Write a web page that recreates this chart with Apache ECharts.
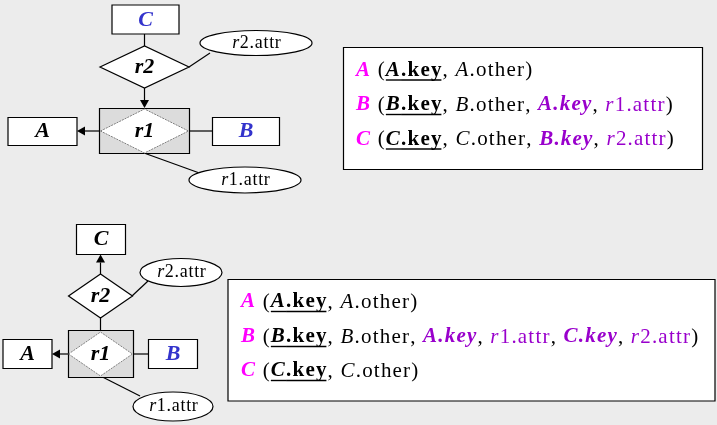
<!DOCTYPE html>
<html>
<head>
<meta charset="utf-8">
<script src="https://cdn.jsdelivr.net/npm/echarts@6/dist/echarts.min.js"></script>
<style>
html, body {margin: 0; padding: 0; background: #ececec;}
#chart {width: 717px; height: 425px;}
</style>
</head>
<body>
<div id="chart"></div>
<script>
// labels of the ER diagrams
var entityNames = ['A', 'B', 'C'];
var relNames = ['r1', 'r2'];
var attrNames = ['r1.attr', 'r2.attr'];

// relational schemas: [text, kind]
var schemaTop = [
    [['A', 'E'], [' (', 'N'], ['A', 'KI'], ['.key', 'K'], [', ', 'N'], ['A', 'I'], ['.other)', 'N']],
    [['B', 'E'], [' (', 'N'], ['B', 'KI'], ['.key', 'K'], [', ', 'N'], ['B', 'I'], ['.other, ', 'N'],
        ['A.key', 'FI'], [', ', 'N'], ['r', 'PI'], ['1.attr', 'P'], [')', 'N']],
    [['C', 'E'], [' (', 'N'], ['C', 'KI'], ['.key', 'K'], [', ', 'N'], ['C', 'I'], ['.other, ', 'N'],
        ['B.key', 'FI'], [', ', 'N'], ['r', 'PI'], ['2.attr', 'P'], [')', 'N']]
];
var schemaBottom = [
    [['A', 'E'], [' (', 'N'], ['A', 'KI'], ['.key', 'K'], [', ', 'N'], ['A', 'I'], ['.other)', 'N']],
    [['B', 'E'], [' (', 'N'], ['B', 'KI'], ['.key', 'K'], [', ', 'N'], ['B', 'I'], ['.other, ', 'N'],
        ['A.key', 'FI'], [', ', 'N'], ['r', 'PI'], ['1.attr', 'P'], [', ', 'N'],
        ['C.key', 'FI'], [', ', 'N'], ['r', 'PI'], ['2.attr', 'P'], [')', 'N']],
    [['C', 'E'], [' (', 'N'], ['C', 'KI'], ['.key', 'K'], [', ', 'N'], ['C', 'I'], ['.other)', 'N']]
];

var SERIF = 'Liberation Serif';
var FS = 21;
var TRACK = 1.2;
var kinds = {
    E: {fs: 'italic', fw: 'bold', color: '#ff00ff'},
    KI: {fs: 'italic', fw: 'bold', color: '#000', underline: true},
    K: {fs: 'normal', fw: 'bold', color: '#000', underline: true},
    N: {fs: 'normal', fw: 'normal', color: '#000'},
    I: {fs: 'italic', fw: 'normal', color: '#000'},
    FI: {fs: 'italic', fw: 'bold', color: '#9900cc'},
    PI: {fs: 'italic', fw: 'normal', color: '#9900cc'},
    P: {fs: 'normal', fw: 'normal', color: '#9900cc'}
};

var measureCtx = document.createElement('canvas').getContext('2d');

// draws text char by char with a little extra spacing, returns the advance
function run(els, x, y, text, fs, fw, size, color, track) {
    measureCtx.font = fs + ' ' + fw + ' ' + size + 'px ' + SERIF;
    text.split('').forEach(function (ch) {
        if (ch !== ' ') {
            els.push({type: 'text', silent: true,
                style: {x: x, y: y, text: ch, fontStyle: fs, fontWeight: fw, fontSize: size,
                    fontFamily: SERIF, fill: color, align: 'left', verticalAlign: 'middle'}});
        }
        x += measureCtx.measureText(ch).width + track;
    });
    return x;
}

function schemaRows(rows, x0, ys) {
    var els = [];
    rows.forEach(function (row, i) {
        var x = x0;
        var y = ys[i];
        row.forEach(function (seg) {
            var k = kinds[seg[1]];
            var nx = run(els, x, y, seg[0], k.fs, k.fw, FS, k.color, TRACK);
            if (k.underline) {
                els.push(line(x, y + 9.5, nx - (seg[1] === 'K' ? TRACK : 0), y + 9.5, 1.4));
            }
            x = nx;
        });
    });
    return els;
}

function rect(x, y, w, h, fill) {
    return {type: 'rect', shape: {x: x, y: y, width: w, height: h},
        style: {fill: fill || '#fff', stroke: '#000', lineWidth: 1.2}};
}

function diamond(cx, cy, w, h, dotted) {
    return {type: 'polygon',
        shape: {points: [[cx - w / 2, cy], [cx, cy - h / 2], [cx + w / 2, cy], [cx, cy + h / 2]]},
        style: dotted ? {fill: '#fff', stroke: '#808080', lineWidth: 1, lineDash: [2, 1]}
            : {fill: '#fff', stroke: '#000', lineWidth: 1.2}};
}

function ellipse(cx, cy, rx, ry) {
    return {type: 'ellipse', shape: {cx: cx, cy: cy, rx: rx, ry: ry},
        style: {fill: '#fff', stroke: '#000', lineWidth: 1.2}};
}

function line(x1, y1, x2, y2, lw) {
    return {type: 'line', shape: {x1: x1, y1: y1, x2: x2, y2: y2},
        style: {stroke: '#000', lineWidth: lw || 1.2}};
}

function arrow(x1, y1, x2, y2) {
    var dx = x2 - x1, dy = y2 - y1;
    var len = Math.sqrt(dx * dx + dy * dy);
    var ux = dx / len, uy = dy / len;
    var bx = x2 - ux * 8, by = y2 - uy * 8;
    return [
        line(x1, y1, bx, by),
        {type: 'polygon',
            shape: {points: [[x2, y2], [bx - uy * 4.5, by + ux * 4.5], [bx + uy * 4.5, by - ux * 4.5]]},
            style: {fill: '#000'}}
    ];
}

function label(cx, cy, text, color) {
    return {type: 'text', silent: true,
        style: {x: cx, y: cy, text: text, fontStyle: 'italic', fontWeight: 'bold', fontSize: 22,
            fontFamily: SERIF, fill: color || '#000', align: 'center', verticalAlign: 'middle'}};
}

function attrLabel(cx, cy, text) {
    var els = [];
    var size = 18, track = 0.7;
    measureCtx.font = 'normal normal ' + size + 'px ' + SERIF;
    var w = measureCtx.measureText(text).width + track * (text.length - 1);
    var x = cx - w / 2;
    x = run(els, x, cy, text.charAt(0), 'italic', 'normal', size, '#000', track);
    run(els, x, cy, text.slice(1), 'normal', 'normal', size, '#000', track);
    return els;
}

var BLUE = '#3333cc';

function topDiagram() {
    return [].concat(
        line(144.5, 34, 144.5, 46),
        line(189, 67, 210, 53),
        arrow(144.5, 88, 144.5, 108),
        line(189, 131, 212, 131),
        line(144, 153, 198, 172.5),
        rect(112, 5, 67, 29), label(145.5, 20, entityNames[2], BLUE),
        diamond(144.5, 67, 89, 42), label(144.5, 67, relNames[1]),
        ellipse(256, 43, 56, 12.5), attrLabel(256, 43, attrNames[1]),
        rect(99.5, 108.5, 90, 45, '#dcdcdc'),
        diamond(144.5, 131, 88, 44, true), label(144.5, 131, relNames[0]),
        arrow(99.5, 131, 77, 131),
        rect(8, 117.5, 69, 28), label(42.5, 131.5, entityNames[0]),
        rect(212.5, 117.5, 67, 28), label(246, 131.5, entityNames[1], BLUE),
        ellipse(245, 180, 56, 13), attrLabel(245, 180, attrNames[0])
    );
}

function bottomDiagram() {
    return [].concat(
        arrow(100.5, 274, 100.5, 254.5),
        line(132, 296, 148, 281),
        line(100.5, 318, 100.5, 330),
        line(133, 354, 148, 354),
        line(100.5, 376, 140, 396),
        rect(76.5, 224.5, 49, 30), label(101, 239.5, entityNames[2]),
        diamond(100.5, 296, 64, 44), label(100.5, 296, relNames[1]),
        ellipse(181, 272.5, 41, 14), attrLabel(181, 272.5, attrNames[1]),
        rect(68.5, 330.5, 65, 47, '#dcdcdc'),
        diamond(100.5, 354, 64, 44, true), label(100.5, 354, relNames[0]),
        arrow(68.5, 354, 52, 354),
        rect(3, 339.5, 49, 29), label(27.5, 354, entityNames[0]),
        rect(148.5, 339.5, 49, 29), label(173, 354, entityNames[1], BLUE),
        ellipse(173, 406.5, 40, 14.5), attrLabel(173, 406.5, attrNames[0])
    );
}

var elements = [].concat(
    topDiagram(),
    bottomDiagram(),
    rect(343.5, 47.5, 359, 122),
    schemaRows(schemaTop, 356, [70.5, 105, 139.5]),
    rect(228, 279.5, 487, 121.5),
    schemaRows(schemaBottom, 241, [302, 337, 371])
);

var myChart = echarts.init(document.getElementById('chart'));
myChart.setOption({
    backgroundColor: '#ececec',
    animation: false,
    graphic: {elements: elements}
});
</script>
</body>
</html>
